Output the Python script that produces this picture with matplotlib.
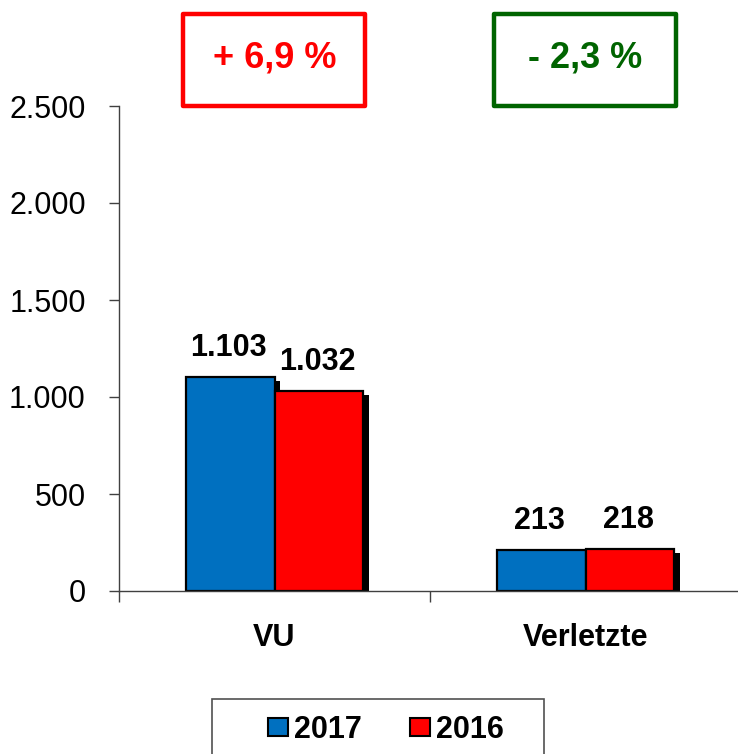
import matplotlib
matplotlib.use("Agg")
import matplotlib.pyplot as plt
import matplotlib.patheffects as pe
from matplotlib.patches import Patch, Rectangle
from matplotlib.transforms import blended_transform_factory
from matplotlib.ticker import FuncFormatter, FixedLocator
import numpy as np

plt.rcParams['font.family'] = ['Liberation Sans', 'DejaVu Sans']

# data
categories = ["VU", "Verletzte"]
years = ["2017", "2016"]
values_2017 = [1103, 213]
values_2016 = [1032, 218]
colors = ["#0070C0", "#FF0000"]
change_colors = ["#FF0000", "#006400"]


def fmt_de(v, pos=None):
    return f"{int(v):,}".replace(",", ".")


fig = plt.figure(figsize=(7.38, 7.54), dpi=100)
ax = fig.add_axes([119/738, (754-591)/754, 622/738, 485/754])

x = np.arange(len(categories))
w = 0.286
shadow = [pe.SimplePatchShadow(offset=(3.8, -3.2), shadow_rgbFace="black", alpha=1.0), pe.Normal()]

series = [values_2017, values_2016]
for i, vals in enumerate(series):
    pos = x + (i - 0.5) * w
    bars = ax.bar(pos, vals, width=w, color=colors[i], edgecolor="black",
                  linewidth=1.6, label=years[i])
    for b in bars:
        b.set_path_effects(shadow)
    for px, v in zip(pos, vals):
        ax.annotate(fmt_de(v), (px, v), xytext=(-1, 15), textcoords="offset points",
                    ha="center", va="baseline", fontsize=22, fontweight="bold")

ax.set_xlim(-0.5, 1.5)
ax.set_ylim(0, 2500)
ax.set_yticks(np.arange(0, 2501, 500))
ax.yaxis.set_major_formatter(FuncFormatter(fmt_de))
ax.tick_params(axis="y", direction="out", length=7, width=1, color="#404040",
               labelsize=22, pad=17)

ax.set_xticks(x)
ax.set_xticklabels(categories, fontsize=22, fontweight="bold")
ax.xaxis.set_minor_locator(FixedLocator([-0.5, 0.5, 1.5]))
ax.tick_params(axis="x", which="major", length=0, pad=23)
ax.tick_params(axis="x", which="minor", length=8, width=1, color="#404040")

for s in ["top", "right"]:
    ax.spines[s].set_visible(False)
for s in ["left", "bottom"]:
    ax.spines[s].set_color("#404040")
    ax.spines[s].set_linewidth(1)

# percent change boxes above each category
trans = blended_transform_factory(ax.transData, ax.transAxes)
for i, cat in enumerate(categories):
    pct = (values_2017[i] - values_2016[i]) / values_2016[i] * 100
    sign = "+" if pct >= 0 else "-"
    txt = f"{sign} {abs(pct):.1f} %".replace(".", ",")
    rect = Rectangle((x[i] - 0.293, 1.0), 0.585, 0.19, transform=trans,
                     fill=False, edgecolor=change_colors[i], linewidth=3.2,
                     joinstyle="round", clip_on=False)
    ax.add_patch(rect)
    ax.text(x[i], 1.098, txt, transform=trans, ha="center", va="center",
            fontsize=26, fontweight="bold", color=change_colors[i])

# legend with box running off the bottom
fig.patches.append(Rectangle((212/738, -0.05), 332/738, 0.05 + (754-699)/754,
                             transform=fig.transFigure, fill=False,
                             edgecolor="#505050", linewidth=1.2))
handles = [Patch(facecolor=c, edgecolor="black", linewidth=1.5) for c in colors]
fig.legend(handles, years, loc="center", bbox_to_anchor=(386/738, 1 - 730/754),
           ncol=2, frameon=False, prop={"weight": "bold", "size": 22},
           handlelength=0.65, handleheight=0.5, handletextpad=0.22,
           columnspacing=1.55)

fig.savefig("out.png", dpi=100)
